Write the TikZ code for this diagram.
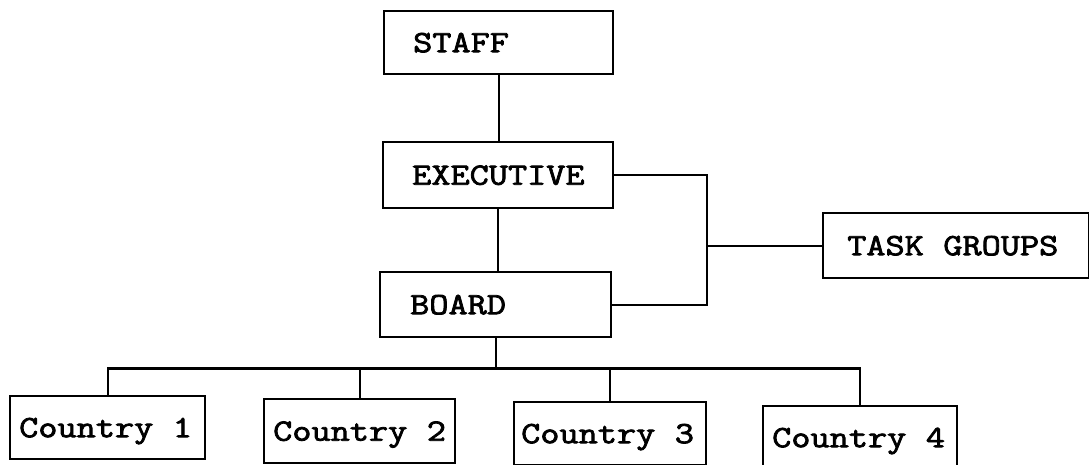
\documentclass[tikz,border=0pt]{standalone}
\usepackage{fontspec}
\newfontfamily\boxfont[FakeStretch=1.2, FakeBold=2.5]{Latin Modern Mono}
\newcommand\monogap{\kern19.53pt\relax}
\begin{document}
\begin{tikzpicture}[x=1pt,y=-1pt,
  box/.style={draw, line width=2.4pt, anchor=north west, align=left,
    font=\boxfont\fontsize{31}{36}\selectfont,
    text height=19pt, text depth=0pt, inner ysep=0pt},
  link/.style={line width=2.3pt}]
\useasboundingbox (0,0) rectangle (1089,465);
% upper boxes
\node[box, minimum height=63pt, inner xsep=29pt, text width=171pt] (staff) at (383,10) {STAFF};
\node[box, minimum height=66pt, inner xsep=29pt, text width=172pt] (exec) at (382,141) {EXECUTIVE};
\node[box, minimum height=65pt, inner xsep=30pt, text width=171pt] (board) at (379,271) {BOARD};
\node[box, minimum height=65pt, inner xsep=24pt, text width=218pt] (task) at (822,212) {TASK\monogap GROUPS};
% country boxes
\node[box, minimum height=63pt, inner xsep=9pt, text width=177pt] (c1) at (9,395) {Country\monogap 1};
\node[box, minimum height=64pt, inner xsep=9pt, text width=173pt] (c2) at (263,398) {Country\monogap 2};
\node[box, minimum height=63pt, inner xsep=7pt, text width=178pt] (c3) at (513,401) {Country\monogap 3};
\node[box, minimum height=63pt, inner xsep=9pt, text width=176pt] (c4) at (762,405) {Country\monogap 4};
% junctions
\coordinate (j) at ([xshift=-115pt]task.west);
\coordinate (bus) at ([yshift=-30pt]board.south);
% connectors
\draw[link] (staff.south) -- (staff.south |- exec.north);
\draw[link] (exec.south) -- (exec.south |- board.north);
\draw[link] (exec.east) -| (j) |- (board.east);
\draw[link] (j) -- (task.west);
\draw[link] (board.south) -- (bus);
\draw[link] (c1.north) |- (bus) -| (c4.north);
\draw[link] (c2.north) -- (c2.north |- bus);
\draw[link] (c3.north) -- (c3.north |- bus);
\end{tikzpicture}
\end{document}
